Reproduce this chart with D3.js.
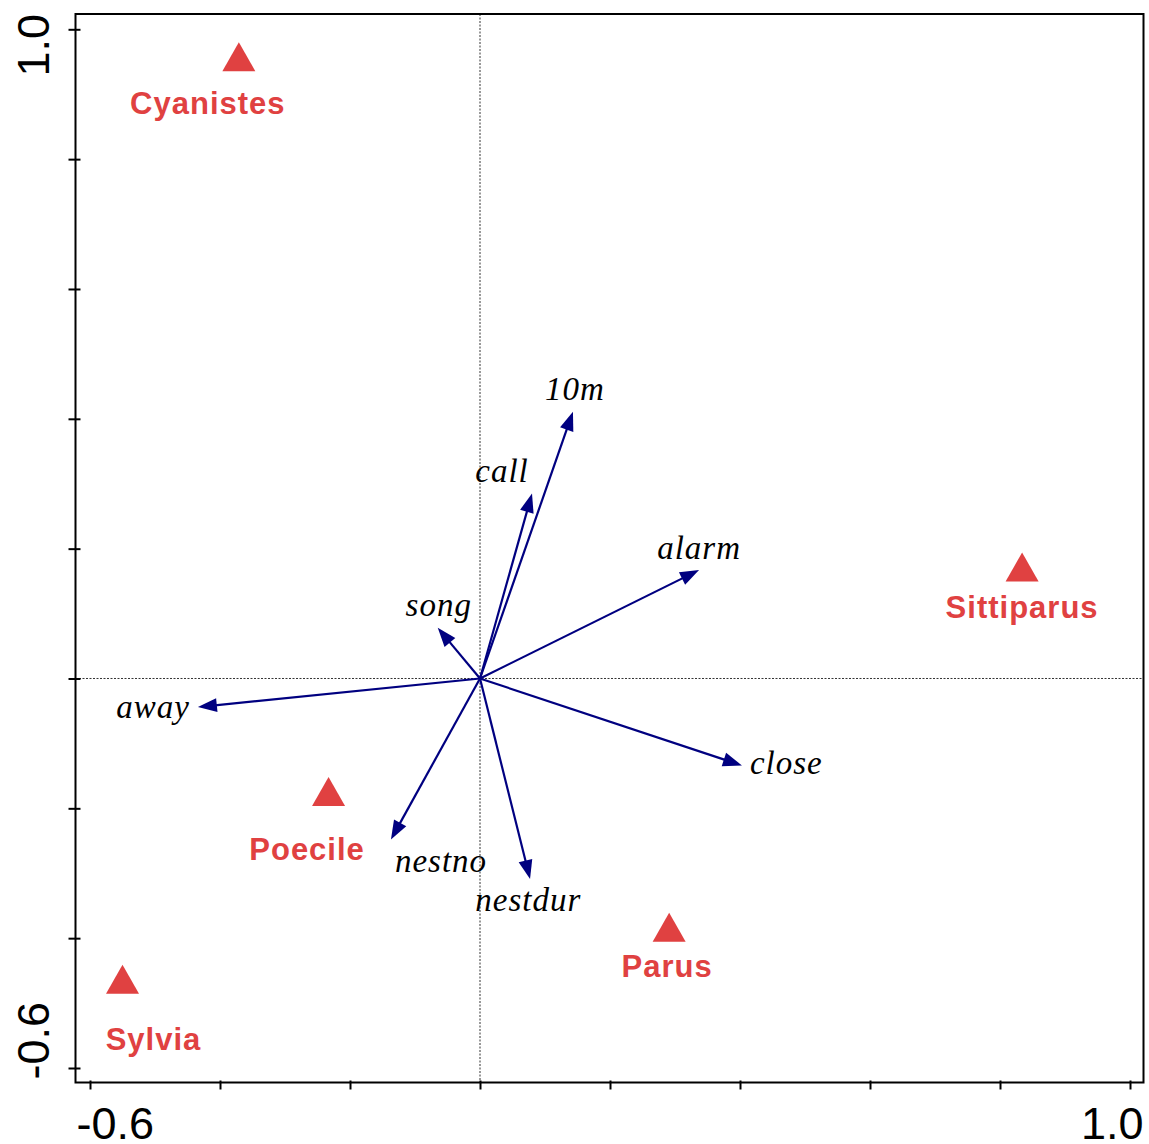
<!DOCTYPE html>
<html>
<head>
<meta charset="utf-8">
<script src="https://cdn.jsdelivr.net/npm/d3@7"></script>
<style>
  html, body { margin: 0; padding: 0; background: #fff; }
  svg { display: block; }
</style>
</head>
<body>
<div id="chart"></div>
<script>
// Species scores (triangles) on the first two ordination axes
const speciesNames = ["Cyanistes", "Sittiparus", "Poecile", "Parus", "Sylvia"];
const speciesX = [-0.371, 0.834, -0.233, 0.291, -0.550];
const speciesY = [0.957, 0.171, -0.175, -0.384, -0.464];

// Variable loadings (arrows from the origin)
const variableNames = ["10m", "call", "alarm", "close", "song", "away", "nestno", "nestdur"];
const variableX = [0.143, 0.080, 0.337, 0.403, -0.065, -0.434, -0.137, 0.077];
const variableY = [0.411, 0.285, 0.167, -0.134, 0.078, -0.044, -0.248, -0.309];

// Axis ticks and the two end labels shown on each axis
const tickValues = [-0.6, -0.4, -0.2, 0, 0.2, 0.4, 0.6, 0.8, 1.0];
const axisEndLabels = ["-0.6", "1.0"];

// Label placement (pixel offsets from each mark)
const speciesLabelOffset = [[-31, 57], [0, 51], [-21.5, 68], [-2, 49.5], [31, 70.5]];
const variableLabelLayout = [
  ["middle", 2, -12], ["middle", -30, -11.6], ["middle", 0, -11], ["start", 8, 9],
  ["middle", 1, -11.7], ["end", -8, 11], ["start", 4, 33], ["middle", -1.7, 32]
];

const W = 1149, H = 1144;
const frame = { left: 75.5, right: 1143.5, top: 14, bottom: 1082.5 };
const red = "#e04141";
const navy = "#000080";

const x = d3.scaleLinear().domain([-0.6, 1.0]).range([90, 1130]);
const y = d3.scaleLinear().domain([-0.6, 1.0]).range([1068, 29.3]);

const svg = d3.select("#chart").append("svg")
  .attr("width", W).attr("height", H);

// Dotted zero lines
svg.append("line")
  .attr("x1", x(0)).attr("x2", x(0))
  .attr("y1", frame.top).attr("y2", frame.bottom)
  .attr("stroke", "#333").attr("stroke-width", 1).attr("stroke-dasharray", "2,1.5");
svg.append("line")
  .attr("x1", frame.left).attr("x2", frame.right)
  .attr("y1", y(0)).attr("y2", y(0))
  .attr("stroke", "#333").attr("stroke-width", 1).attr("stroke-dasharray", "2,1.5");

// Frame
svg.append("rect")
  .attr("x", frame.left).attr("y", frame.top)
  .attr("width", frame.right - frame.left).attr("height", frame.bottom - frame.top)
  .attr("fill", "none").attr("stroke", "#000").attr("stroke-width", 2);

// Tick marks crossing the frame
const xAxis = svg.append("g")
  .attr("transform", `translate(0,${frame.bottom})`)
  .call(d3.axisBottom(x).tickValues(tickValues).tickSize(7).tickFormat(""));
xAxis.select(".domain").remove();
xAxis.selectAll(".tick line").attr("y1", -2).attr("y2", 7)
  .attr("stroke", "#000").attr("stroke-width", 2);

const yAxis = svg.append("g")
  .attr("transform", `translate(${frame.left},0)`)
  .call(d3.axisLeft(y).tickValues(tickValues).tickSize(7).tickFormat(""));
yAxis.select(".domain").remove();
yAxis.selectAll(".tick line").attr("x1", 5).attr("x2", -7)
  .attr("stroke", "#000").attr("stroke-width", 2);

// End labels of the axes
const tickFont = "'Liberation Sans', Arial, sans-serif";
svg.append("text").text(axisEndLabels[0])
  .attr("x", frame.left + 1).attr("y", 1139)
  .attr("font-family", tickFont).attr("font-size", 45).attr("text-anchor", "start");
svg.append("text").text(axisEndLabels[1])
  .attr("x", frame.right).attr("y", 1139)
  .attr("font-family", tickFont).attr("font-size", 45).attr("text-anchor", "end");
svg.append("text").text(axisEndLabels[1])
  .attr("transform", `translate(49,${frame.top}) rotate(-90)`)
  .attr("font-family", tickFont).attr("font-size", 45).attr("text-anchor", "end");
svg.append("text").text(axisEndLabels[0])
  .attr("transform", `translate(49,${frame.bottom - 3}) rotate(-90)`)
  .attr("font-family", tickFont).attr("font-size", 45).attr("text-anchor", "start");

// Variable arrows
const headLen = 19, headHalf = 7;
const ox = x(0), oy = y(0);
variableNames.forEach((name, i) => {
  const tx = x(variableX[i]), ty = y(variableY[i]);
  const dx = tx - ox, dy = ty - oy;
  const len = Math.hypot(dx, dy);
  const ux = dx / len, uy = dy / len;
  const bx = tx - ux * headLen, by = ty - uy * headLen;
  svg.append("line")
    .attr("x1", ox).attr("y1", oy)
    .attr("x2", tx - ux * (headLen - 2)).attr("y2", ty - uy * (headLen - 2))
    .attr("stroke", navy).attr("stroke-width", 2.2);
  svg.append("path")
    .attr("d", `M${tx},${ty}L${bx - uy * headHalf},${by + ux * headHalf}L${bx + uy * headHalf},${by - ux * headHalf}Z`)
    .attr("fill", navy);
  const [anchor, lx, ly] = variableLabelLayout[i];
  svg.append("text").text(name)
    .attr("x", tx + lx).attr("y", ty + ly)
    .attr("text-anchor", anchor)
    .attr("font-family", "'Liberation Serif', 'Times New Roman', serif")
    .attr("font-style", "italic").attr("font-size", 33)
    .attr("letter-spacing", 1)
    .attr("fill", "#000");
});

// Species triangles and labels
const tri = "M0,-15L16.5,14L-16.5,14Z";
speciesNames.forEach((name, i) => {
  const cx = x(speciesX[i]), cy = y(speciesY[i]);
  svg.append("path").attr("d", tri)
    .attr("transform", `translate(${cx},${cy})`)
    .attr("fill", red);
  const [lx, ly] = speciesLabelOffset[i];
  svg.append("text").text(name)
    .attr("x", cx + lx).attr("y", cy + ly)
    .attr("text-anchor", "middle")
    .attr("font-family", "'Liberation Sans', Arial, sans-serif")
    .attr("font-weight", "bold").attr("font-size", 31)
    .attr("letter-spacing", 1)
    .attr("fill", red);
});
</script>
</body>
</html>
